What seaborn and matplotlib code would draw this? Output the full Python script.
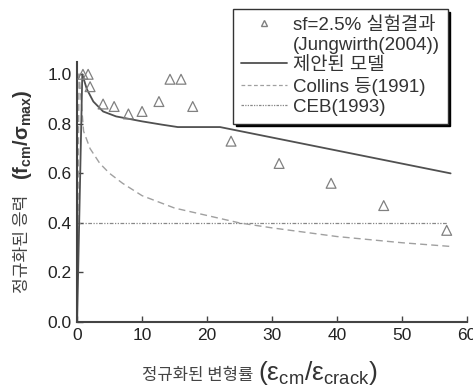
import matplotlib
matplotlib.use("Agg")
import matplotlib.pyplot as plt
import pandas as pd
import seaborn as sns
from matplotlib.lines import Line2D

# data
test_x = [0.9, 1.7, 2.0, 4.0, 5.7, 7.9, 10.0, 12.6, 14.3, 16.0, 17.8, 23.7, 31.1, 39.1, 47.2, 56.9]
test_y = [1.00, 1.00, 0.95, 0.88, 0.87, 0.84, 0.85, 0.89, 0.98, 0.98, 0.87, 0.73, 0.64, 0.56, 0.47, 0.37]

model_x = [0.0, 0.8, 1.5, 2.5, 4.0, 6.0, 8.0, 10.0, 13.0, 15.5, 22.0, 57.5]
model_y = [0.0, 1.00, 0.94, 0.89, 0.85, 0.83, 0.82, 0.81, 0.797, 0.787, 0.787, 0.600]

collins_x = [0.0, 0.3, 1.0, 2.0, 3.5, 5.0, 7.0, 10.0, 15.0, 20.0, 25.0, 30.0, 40.0, 50.0, 57.5]
collins_y = [0.0, 1.00, 0.77, 0.70, 0.64, 0.60, 0.56, 0.51, 0.46, 0.43, 0.40, 0.38, 0.345, 0.32, 0.305]

ceb_x = [0.0, 57.0]
ceb_y = [0.40, 0.40]

labels = ["sf=2.5% 실험결과", "(Jungwirth(2004))", "제안된 모델", "Collins 등(1991)", "CEB(1993)"]

sns.set_theme(style="ticks")
plt.rcParams['font.family'] = ['Liberation Sans', 'Noto Sans CJK KR', 'DejaVu Sans']
plt.rcParams['mathtext.fontset'] = 'custom'
plt.rcParams['mathtext.rm'] = 'Liberation Sans'
plt.rcParams['mathtext.it'] = 'Liberation Sans:italic'
plt.rcParams['mathtext.bf'] = 'Liberation Sans:bold'

fig = plt.figure(figsize=(4.73, 3.87), dpi=100)
ax = fig.add_axes([0.163, 0.168, 0.824, 0.672])

test = pd.DataFrame({"x": test_x, "y": test_y})
model = pd.DataFrame({"x": model_x, "y": model_y})
collins = pd.DataFrame({"x": collins_x, "y": collins_y})
ceb = pd.DataFrame({"x": ceb_x, "y": ceb_y})

sns.lineplot(data=ceb, x="x", y="y", ax=ax, color="#888888", lw=0.9,
             linestyle=(0, (3, 1.2, 1, 1.2, 1, 1.2)), estimator=None, sort=False)
sns.lineplot(data=collins, x="x", y="y", ax=ax, color="#a0a0a0", lw=1.0,
             linestyle=(0, (5, 3)), estimator=None, sort=False)
sns.lineplot(data=model, x="x", y="y", ax=ax, color="#505050", lw=1.3,
             estimator=None, sort=False)
sns.scatterplot(data=test, x="x", y="y", ax=ax, marker="^", s=50,
                facecolor="none", edgecolor="#808080", linewidth=0.9, zorder=5)

ax.set_xlim(0, 60)
ax.set_ylim(0, 1.05)
ax.set_xticks([0, 10, 20, 30, 40, 50, 60])
ax.set_yticks([0.0, 0.2, 0.4, 0.6, 0.8, 1.0])
ax.set_yticklabels(["0.0", "0.2", "0.4", "0.6", "0.8", "1.0"])
ax.tick_params(direction="in", length=4, width=1, labelsize=12.5, colors="#444444",
               labelcolor="#222222", pad=4)
for s in ["top", "right"]:
    ax.spines[s].set_visible(False)
for s in ["left", "bottom"]:
    ax.spines[s].set_color("#444444")
    ax.spines[s].set_linewidth(1.5)
ax.set_xlabel("")
ax.set_ylabel("")

# axis titles: Korean part + larger formula part, sharing a baseline
kor = dict(fontfamily="Noto Sans CJK KR", color="#444444")
fig.text(142 / 473, 0.018, "정규화된 변형률", fontsize=12, ha="left", va="baseline", **kor)
fig.text(258 / 473, 0.018,
         "$(\\mathrm{\\varepsilon}_{\\mathrm{cm}}/\\mathrm{\\varepsilon}_{\\mathrm{crack}})$",
         fontsize=19, ha="left", va="baseline", color="#333333")
fig.text(0.057, 1 - 293 / 387, "정규화된 응력", fontsize=12.3, rotation=90,
         rotation_mode="anchor", ha="left", va="baseline", **kor)
fig.text(0.060, 1 - 180 / 387, "$\\mathbf{(f_{cm}/\\sigma_{max})}$", fontsize=14.5,
         rotation=90, rotation_mode="anchor", ha="left", va="baseline", color="#333333")

handles = [
    Line2D([], [], marker="^", ls="none", mfc="none", mec="#808080", ms=5),
    Line2D([], [], ls="none"),
    Line2D([], [], color="#505050", lw=1.3),
    Line2D([], [], color="#a0a0a0", lw=0.9, ls=(0, (3, 2))),
    Line2D([], [], color="#888888", lw=0.9, ls=(0, (2, 1, 1, 1, 1, 1))),
]
leg = fig.legend(handles, labels, loc="upper left", bbox_to_anchor=(233 / 473, 1 - 9 / 387),
                 fontsize=13.5, labelspacing=0.16, handlelength=2.5, handletextpad=0.3,
                 borderpad=0.4, borderaxespad=0, frameon=True, fancybox=False,
                 shadow={"facecolor": "black", "edgecolor": "black", "alpha": 1})
leg.get_frame().set_edgecolor("#333333")
leg.get_frame().set_linewidth(1.0)
for t in leg.get_texts():
    t.set_color("#333333")

plt.savefig("out.png", dpi=100)
plt.close()
